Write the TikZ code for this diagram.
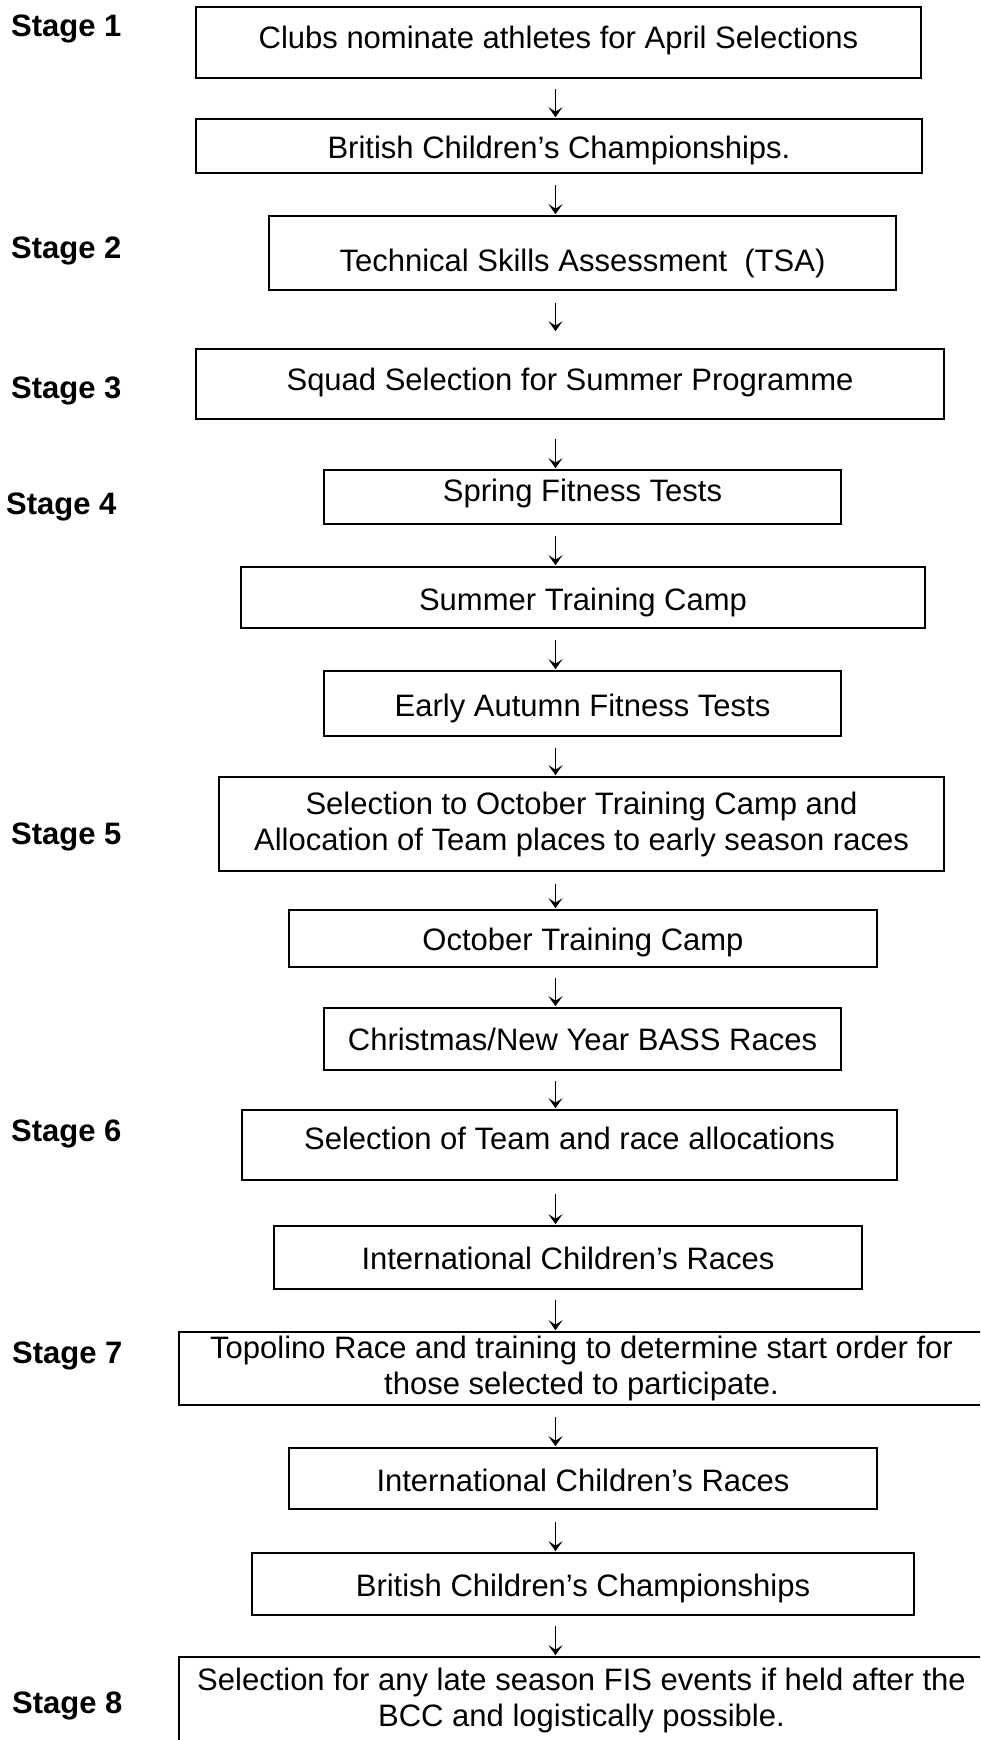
\documentclass[tikz,border=0pt]{standalone}
\usepackage{fontspec}
\setmainfont{Liberation Sans}
\usetikzlibrary{calc,arrows.meta}
\begin{document}
\begin{tikzpicture}[x=1pt,y=-1pt,
  box/.style={draw, line width=1.6pt, inner sep=0pt, align=center,
    font=\fontsize{31}{36}\selectfont},
  sl/.style args={#1/#2}{text height=#1pt, text depth=#2pt},
  stage/.style={anchor=west, inner sep=0pt, font=\fontsize{31}{36}\selectfont\bfseries,
    text height=22pt, text depth=0pt},
  arr/.style={line width=1.4pt, -{Stealth[length=10pt,width=14pt,inset=4.5pt]}}]
\useasboundingbox (0,0) rectangle (980,1740);
\clip (0,0) rectangle (980,1740);
\fill[white] (0,0) rectangle (980,1740);
\coordinate (ax) at (555.5,0);

% boxes
\node[box, sl=22/11, minimum width=725, minimum height=71] (b1) at (558.5,42.5) {Clubs nominate athletes for April Selections};
\node[box, sl=24/0, minimum width=726, minimum height=54] (b2) at (559,146) {British Children’s Championships.};
\node[box, sl=36/0, minimum width=627, minimum height=74] (b3) at (582.5,253) {Technical Skills Assessment\ \ (TSA)};
\node[box, sl=22/10, minimum width=748, minimum height=70] (b4) at (570,384) {Squad Selection for Summer Programme};
\node[box, sl=22/14, minimum width=517, minimum height=54] (b5) at (582.5,497) {Spring Fitness Tests};
\node[box, sl=25/0, minimum width=684, minimum height=61] (b6) at (583,597.5) {Summer Training Camp};
\node[box, sl=25/0, minimum width=517, minimum height=65] (b7) at (582.5,703.5) {Early Autumn Fitness Tests};
\node[box, minimum width=725, minimum height=94] (b8) at (581.5,824) {Selection to October Training Camp and\\Allocation of Team places to early season races};
\node[box, sl=23/0, minimum width=588, minimum height=57] (b9) at (583,938.5) {October Training Camp};
\node[box, sl=22/0, minimum width=517, minimum height=62] (b10) at (582.5,1039) {Christmas/New Year BASS Races};
\node[box, sl=22/14, minimum width=655, minimum height=70] (b11) at (569.5,1145) {Selection of Team and race allocations};
\node[box, sl=23/0, minimum width=588, minimum height=63] (b12) at (568,1257.5) {International Children’s Races};
\node[box, minimum width=805, minimum height=73] (b13) at (581.5,1368.5) {Topolino Race and training to determine start order for\\those selected to participate.};
\node[box, sl=25/0, minimum width=588, minimum height=61] (b14) at (583,1478.5) {International Children’s Races};
\node[box, sl=24/0, minimum width=662, minimum height=62] (b15) at (583,1584) {British Children’s Championships};
\node[box, minimum width=805, minimum height=86] (b16) at (581.5,1700) {Selection for any late season FIS events if held after the\\BCC and logistically possible.};

% stage labels
\node[stage] (s1) at (11,25) {Stage 1};
\node[stage] (s2) at (11,247) {Stage 2};
\node[stage] (s3) at (11,387) {Stage 3};
\node[stage] (s4) at (6,503) {Stage 4};
\node[stage] (s5) at (11,833) {Stage 5};
\node[stage] (s6) at (11,1130) {Stage 6};
\node[stage] (s7) at (12,1352) {Stage 7};
\node[stage] (s8) at (12,1702) {Stage 8};

% arrows
\foreach \a/\b/\g/\e in {b1/b2/10/1, b2/b3/11/1, b3/b4/12/17, b4/b5/19/1,
  b5/b6/11/1, b6/b7/11/1, b7/b8/11/1, b8/b9/12/1, b9/b10/10/1, b10/b11/10/1,
  b11/b12/13/1, b12/b13/10/1, b13/b14/11/1, b14/b15/12/1, b15/b16/10/1}
  \draw[arr] ($(\a.south -| ax)+(0,\g)$) -- ($(\b.north -| ax)+(0,-\e)$);
\end{tikzpicture}
\end{document}
